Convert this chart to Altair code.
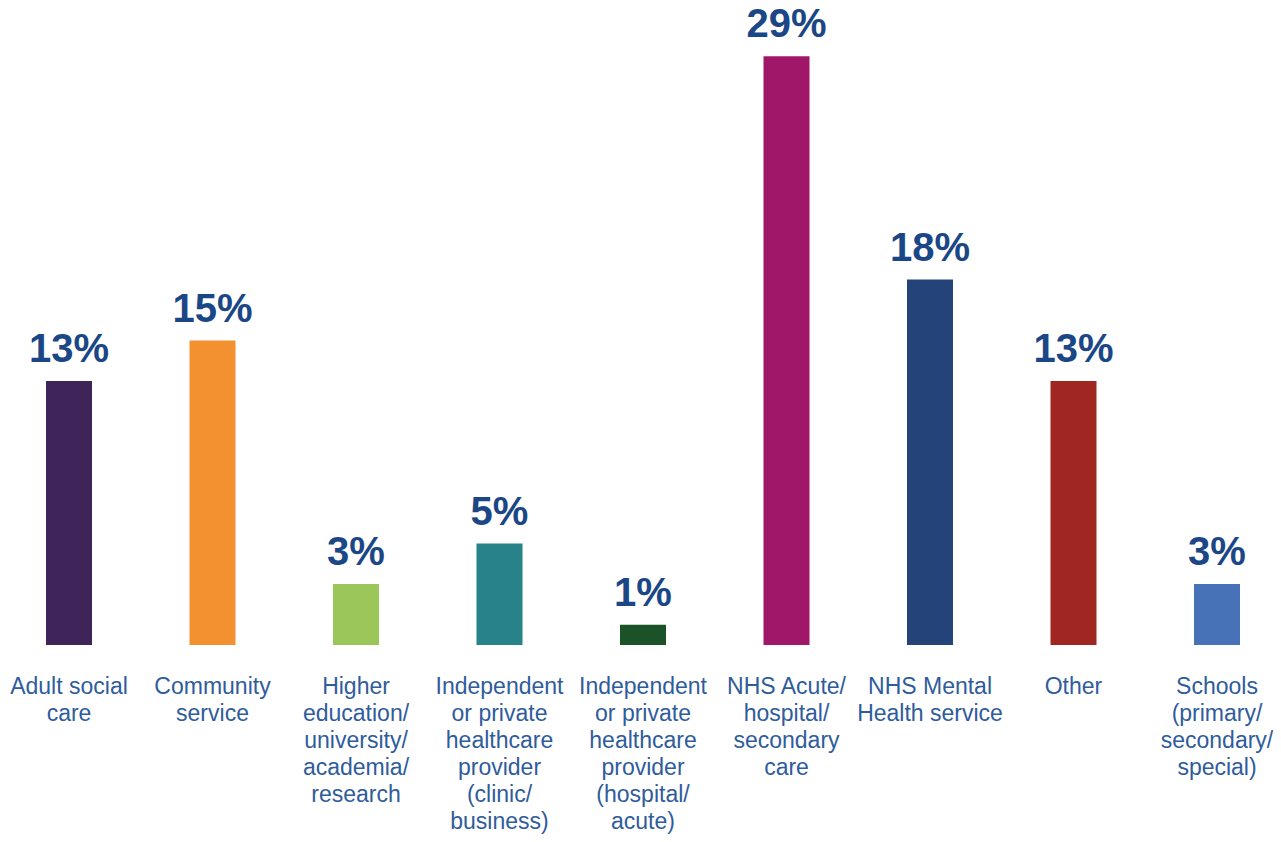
import altair as alt
import pandas as pd

categories = [
    "Adult social care",
    "Community service",
    "Higher education/ university/ academia/ research",
    "Independent or private healthcare provider (clinic/ business)",
    "Independent or private healthcare provider (hospital/ acute)",
    "NHS Acute/ hospital/ secondary care",
    "NHS Mental Health service",
    "Other",
    "Schools (primary/ secondary/ special)",
]
label_lines = [
    "Adult social\ncare",
    "Community\nservice",
    "Higher\neducation/\nuniversity/\nacademia/\nresearch",
    "Independent\nor private\nhealthcare\nprovider\n(clinic/\nbusiness)",
    "Independent\nor private\nhealthcare\nprovider\n(hospital/\nacute)",
    "NHS Acute/\nhospital/\nsecondary\ncare",
    "NHS Mental\nHealth service",
    "Other",
    "Schools\n(primary/\nsecondary/\nspecial)",
]
values = [13, 15, 3, 5, 1, 29, 18, 13, 3]
colors = ["#3F2459", "#F39130", "#9BC65A", "#28828A", "#1C5227",
          "#A0176A", "#244479", "#A02622", "#4872B8"]

df = pd.DataFrame({
    "category": categories,
    "label": label_lines,
    "value": values,
    "text": [f"{v}%" for v in values],
})

H = 637
x = alt.X("category:N", sort=categories, axis=None,
          scale=alt.Scale(range=[-10.75, 1280.75], paddingInner=0, paddingOuter=0))
y = alt.Y("value:Q", axis=None, scale=alt.Scale(domain=[0, H / 20.3], nice=False, zero=True))

bars = alt.Chart(df).mark_bar(size=46).encode(
    x=x, y=y,
    color=alt.Color("category:N", sort=categories, legend=None,
                    scale=alt.Scale(domain=categories, range=colors)),
)

vals = alt.Chart(df).mark_text(
    dy=-19, baseline="alphabetic", align="center", fontSize=40, fontWeight="bold",
    font="Liberation Sans", color="#1B4786",
).encode(x=x, y=y, text="text:N")

labels = alt.Chart(df).mark_text(
    baseline="alphabetic", align="center", fontSize=23, font="Liberation Sans",
    color="#2F5C9B", lineBreak="\n", lineHeight=27,
).encode(x=x, y=alt.value(686), text="label:N")

chart = alt.layer(bars, vals, labels).properties(
    width=1265, height=H,
    autosize=alt.AutoSizeParams(type="none"),
    padding={"left": 0, "top": 0, "right": 0, "bottom": 189},
).configure_view(stroke=None)

chart.save("out.html", embed_options={"renderer": "svg", "actions": False})
